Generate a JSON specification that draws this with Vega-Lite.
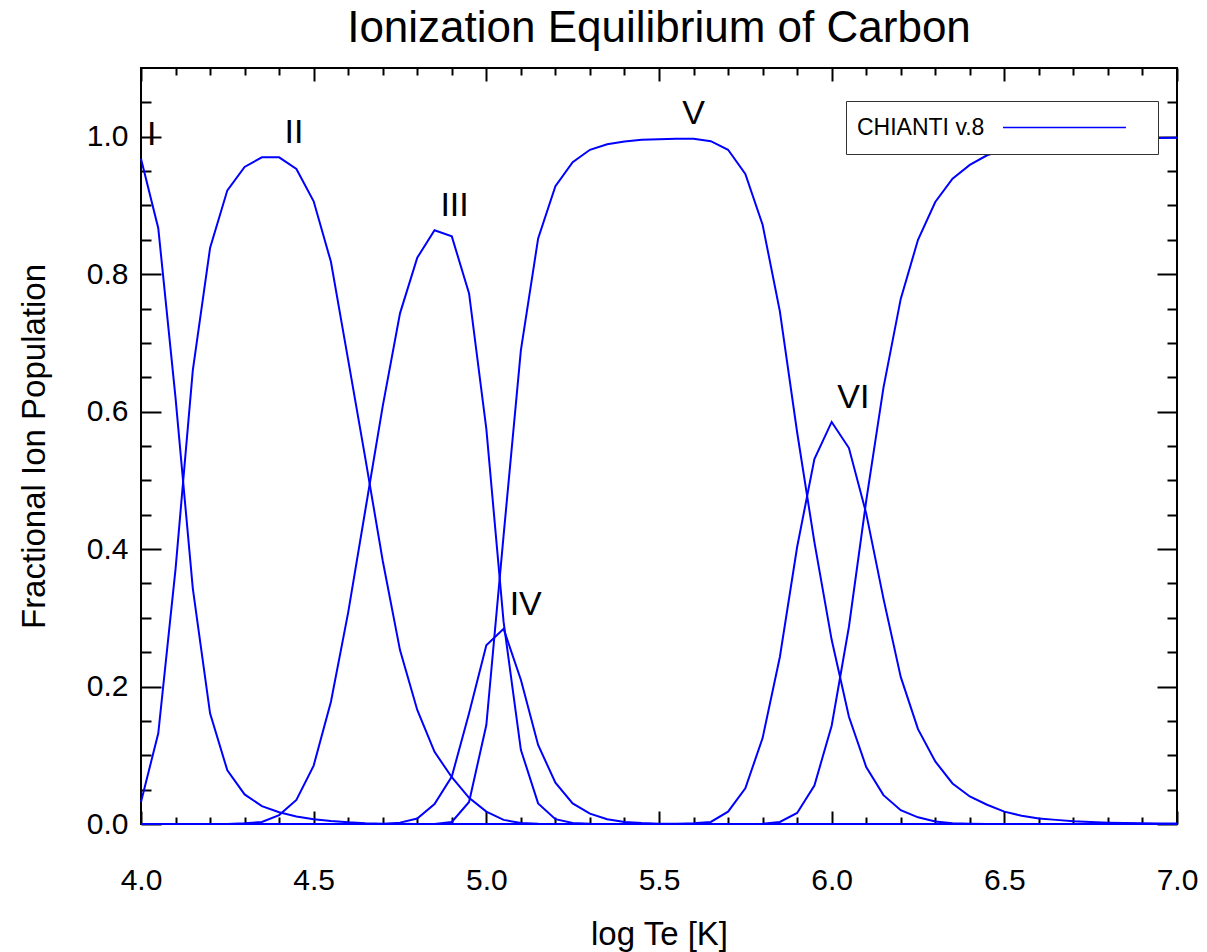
{
  "$schema": "https://vega.github.io/schema/vega-lite/v6.json",
  "autosize": {"type": "none"},
  "padding": {"left": 141, "top": 68, "right": 30, "bottom": 128},
  "width": 1036,
  "height": 756,
  "background": "white",
  "title": {"text": "Ionization Equilibrium of Carbon", "fontSize": 44, "font": "Liberation Sans", "fontWeight": "normal", "color": "black", "anchor": "middle", "baseline": "alphabetic", "offset": -19},
  "config": {
    "view": {"stroke": "black", "strokeWidth": 2},
    "axis": {"domain": false, "grid": false, "tickColor": "black", "tickWidth": 2, "labelColor": "black", "labelFont": "Liberation Sans", "labelFontSize": 30, "labelOverlap": false, "labelFlush": false, "titleFont": "Liberation Sans", "titleFontWeight": "normal", "titleColor": "black", "titleFontSize": 33}
  },
  "datasets": {
    "ioneq": [
      {"t": 4.00, "I": 0.968, "II": 0.032, "III": 0, "IV": 0, "V": 0, "VI": 0, "VII": 0},
      {"t": 4.05, "I": 0.867, "II": 0.132, "III": 0, "IV": 0, "V": 0, "VI": 0, "VII": 0},
      {"t": 4.10, "I": 0.62, "II": 0.371, "III": 0, "IV": 0, "V": 0, "VI": 0, "VII": 0},
      {"t": 4.15, "I": 0.343, "II": 0.66, "III": 0, "IV": 0, "V": 0, "VI": 0, "VII": 0},
      {"t": 4.20, "I": 0.161, "II": 0.838, "III": 0, "IV": 0, "V": 0, "VI": 0, "VII": 0},
      {"t": 4.25, "I": 0.078, "II": 0.922, "III": 0, "IV": 0, "V": 0, "VI": 0, "VII": 0},
      {"t": 4.30, "I": 0.043, "II": 0.956, "III": 0.001, "IV": 0, "V": 0, "VI": 0, "VII": 0},
      {"t": 4.35, "I": 0.026, "II": 0.970, "III": 0.003, "IV": 0, "V": 0, "VI": 0, "VII": 0},
      {"t": 4.40, "I": 0.017, "II": 0.970, "III": 0.013, "IV": 0, "V": 0, "VI": 0, "VII": 0},
      {"t": 4.45, "I": 0.011, "II": 0.953, "III": 0.035, "IV": 0, "V": 0, "VI": 0, "VII": 0},
      {"t": 4.50, "I": 0.007, "II": 0.906, "III": 0.085, "IV": 0, "V": 0, "VI": 0, "VII": 0},
      {"t": 4.55, "I": 0.0044, "II": 0.818, "III": 0.178, "IV": 0, "V": 0, "VI": 0, "VII": 0},
      {"t": 4.60, "I": 0.0025, "II": 0.675, "III": 0.308, "IV": 0, "V": 0, "VI": 0, "VII": 0},
      {"t": 4.65, "I": 0.0012, "II": 0.531, "III": 0.458, "IV": 0, "V": 0, "VI": 0, "VII": 0},
      {"t": 4.70, "I": 0.0005, "II": 0.383, "III": 0.608, "IV": 0, "V": 0, "VI": 0, "VII": 0},
      {"t": 4.75, "I": 0.0002, "II": 0.253, "III": 0.743, "IV": 0.002, "V": 0, "VI": 0, "VII": 0},
      {"t": 4.80, "I": 0.0001, "II": 0.166, "III": 0.824, "IV": 0.008, "V": 0, "VI": 0, "VII": 0},
      {"t": 4.85, "I": 0, "II": 0.105, "III": 0.864, "IV": 0.029, "V": 0, "VI": 0, "VII": 0},
      {"t": 4.90, "I": 0, "II": 0.068, "III": 0.855, "IV": 0.069, "V": 0.003, "VI": 0, "VII": 0},
      {"t": 4.95, "I": 0, "II": 0.038, "III": 0.772, "IV": 0.161, "V": 0.032, "VI": 0, "VII": 0},
      {"t": 5.00, "I": 0, "II": 0.018, "III": 0.575, "IV": 0.260, "V": 0.144, "VI": 0, "VII": 0},
      {"t": 5.05, "I": 0, "II": 0.006, "III": 0.294, "IV": 0.284, "V": 0.42, "VI": 0, "VII": 0},
      {"t": 5.10, "I": 0, "II": 0.0015, "III": 0.108, "IV": 0.21, "V": 0.689, "VI": 0, "VII": 0},
      {"t": 5.15, "I": 0, "II": 0.0003, "III": 0.03, "IV": 0.115, "V": 0.852, "VI": 0, "VII": 0},
      {"t": 5.20, "I": 0, "II": 0, "III": 0.007, "IV": 0.06, "V": 0.928, "VI": 0, "VII": 0},
      {"t": 5.25, "I": 0, "II": 0, "III": 0.0015, "IV": 0.03, "V": 0.963, "VI": 0, "VII": 0},
      {"t": 5.30, "I": 0, "II": 0, "III": 0.0003, "IV": 0.015, "V": 0.981, "VI": 0, "VII": 0},
      {"t": 5.35, "I": 0, "II": 0, "III": 0, "IV": 0.007, "V": 0.989, "VI": 0, "VII": 0},
      {"t": 5.40, "I": 0, "II": 0, "III": 0, "IV": 0.003, "V": 0.993, "VI": 0, "VII": 0},
      {"t": 5.45, "I": 0, "II": 0, "III": 0, "IV": 0.0013, "V": 0.9955, "VI": 0, "VII": 0},
      {"t": 5.50, "I": 0, "II": 0, "III": 0, "IV": 0.0005, "V": 0.9965, "VI": 0, "VII": 0},
      {"t": 5.55, "I": 0, "II": 0, "III": 0, "IV": 0.0002, "V": 0.997, "VI": 0, "VII": 0},
      {"t": 5.60, "I": 0, "II": 0, "III": 0, "IV": 0, "V": 0.997, "VI": 0.001, "VII": 0},
      {"t": 5.65, "I": 0, "II": 0, "III": 0, "IV": 0, "V": 0.9935, "VI": 0.003, "VII": 0},
      {"t": 5.70, "I": 0, "II": 0, "III": 0, "IV": 0, "V": 0.981, "VI": 0.018, "VII": 0},
      {"t": 5.75, "I": 0, "II": 0, "III": 0, "IV": 0, "V": 0.946, "VI": 0.052, "VII": 0},
      {"t": 5.80, "I": 0, "II": 0, "III": 0, "IV": 0, "V": 0.872, "VI": 0.125, "VII": 0.0005},
      {"t": 5.85, "I": 0, "II": 0, "III": 0, "IV": 0, "V": 0.746, "VI": 0.243, "VII": 0.003},
      {"t": 5.90, "I": 0, "II": 0, "III": 0, "IV": 0, "V": 0.570, "VI": 0.403, "VII": 0.016},
      {"t": 5.95, "I": 0, "II": 0, "III": 0, "IV": 0, "V": 0.41, "VI": 0.531, "VII": 0.056},
      {"t": 6.00, "I": 0, "II": 0, "III": 0, "IV": 0, "V": 0.268, "VI": 0.585, "VII": 0.143},
      {"t": 6.05, "I": 0, "II": 0, "III": 0, "IV": 0, "V": 0.156, "VI": 0.547, "VII": 0.287},
      {"t": 6.10, "I": 0, "II": 0, "III": 0, "IV": 0, "V": 0.083, "VI": 0.452, "VII": 0.47},
      {"t": 6.15, "I": 0, "II": 0, "III": 0, "IV": 0, "V": 0.042, "VI": 0.328, "VII": 0.635},
      {"t": 6.20, "I": 0, "II": 0, "III": 0, "IV": 0, "V": 0.020, "VI": 0.214, "VII": 0.764},
      {"t": 6.25, "I": 0, "II": 0, "III": 0, "IV": 0, "V": 0.0097, "VI": 0.138, "VII": 0.850},
      {"t": 6.30, "I": 0, "II": 0, "III": 0, "IV": 0, "V": 0.0035, "VI": 0.091, "VII": 0.905},
      {"t": 6.35, "I": 0, "II": 0, "III": 0, "IV": 0, "V": 0.0012, "VI": 0.059, "VII": 0.939},
      {"t": 6.40, "I": 0, "II": 0, "III": 0, "IV": 0, "V": 0.0004, "VI": 0.040, "VII": 0.959},
      {"t": 6.45, "I": 0, "II": 0, "III": 0, "IV": 0, "V": 0, "VI": 0.028, "VII": 0.973},
      {"t": 6.50, "I": 0, "II": 0, "III": 0, "IV": 0, "V": 0, "VI": 0.018, "VII": 0.9815},
      {"t": 6.55, "I": 0, "II": 0, "III": 0, "IV": 0, "V": 0, "VI": 0.012, "VII": 0.987},
      {"t": 6.60, "I": 0, "II": 0, "III": 0, "IV": 0, "V": 0, "VI": 0.008, "VII": 0.990},
      {"t": 6.65, "I": 0, "II": 0, "III": 0, "IV": 0, "V": 0, "VI": 0.006, "VII": 0.993},
      {"t": 6.70, "I": 0, "II": 0, "III": 0, "IV": 0, "V": 0, "VI": 0.004, "VII": 0.995},
      {"t": 6.75, "I": 0, "II": 0, "III": 0, "IV": 0, "V": 0, "VI": 0.003, "VII": 0.996},
      {"t": 6.80, "I": 0, "II": 0, "III": 0, "IV": 0, "V": 0, "VI": 0.002, "VII": 0.997},
      {"t": 6.85, "I": 0, "II": 0, "III": 0, "IV": 0, "V": 0, "VI": 0.0015, "VII": 0.9975},
      {"t": 6.90, "I": 0, "II": 0, "III": 0, "IV": 0, "V": 0, "VI": 0.001, "VII": 0.998},
      {"t": 6.95, "I": 0, "II": 0, "III": 0, "IV": 0, "V": 0, "VI": 0.0008, "VII": 0.998},
      {"t": 7.00, "I": 0, "II": 0, "III": 0, "IV": 0, "V": 0, "VI": 0.0006, "VII": 0.9985}
    ],
    "labels": [
      {"label": "I", "t": 4.031, "f": 1.003},
      {"label": "II", "t": 4.443, "f": 1.006},
      {"label": "III", "t": 4.908, "f": 0.899},
      {"label": "IV", "t": 5.114, "f": 0.319},
      {"label": "V", "t": 5.600, "f": 1.033},
      {"label": "VI", "t": 6.063, "f": 0.620}
    ]
  },
  "layer": [
    {
      "data": {"name": "ioneq"},
      "transform": [{"fold": ["I", "II", "III", "IV", "V", "VI", "VII"], "as": ["ion", "frac"]}],
      "mark": {"type": "line", "strokeWidth": 2, "clip": false},
      "encoding": {
        "x": {"field": "t", "type": "quantitative", "scale": {"domain": [4, 7], "nice": false, "zero": false},
          "axis": {"orient": "bottom", "values": [4.0, 4.5, 5.0, 5.5, 6.0, 6.5, 7.0], "tickSize": -13, "format": ".1f",
            "labelPadding": 54, "title": "log Te [K]", "titleX": 518, "titleY": 120, "titleBaseline": "alphabetic"}},
        "y": {"field": "frac", "type": "quantitative", "scale": {"domain": [0, 1.1], "nice": false, "zero": false},
          "axis": {"orient": "left", "values": [0, 0.2, 0.4, 0.6, 0.8, 1.0], "tickSize": -20, "format": ".1f",
            "labelPadding": 33, "title": "Fractional Ion Population", "titleX": -97, "titleY": 378, "titleBaseline": "alphabetic"}},
        "detail": {"field": "ion", "type": "nominal"},
        "color": {"datum": "CHIANTI v.8", "type": "nominal", "scale": {"range": ["#0000ff"]},
          "legend": {"orient": "none", "legendX": 705, "legendY": 33, "title": "CHIANTI v.8", "titleOrient": "left", "titleAngle": 0, "titleFontSize": 23, "titleFontWeight": "normal", "titleFont": "Liberation Sans", "titleColor": "black", "titleBaseline": "middle", "titlePadding": 17,
            "symbolType": "M-1,0H7.48", "symbolSize": 841, "symbolStrokeWidth": 1.5, "symbolStrokeColor": "#0000ff", "symbolFillColor": "transparent",
            "labelExpr": "' '", "labelFontSize": 29, "labelOffset": 114, "strokeColor": "#333333", "padding": 11, "fillColor": "white",
            "encode": {"title": {"update": {"dy": {"value": 1}}}}}}
      }
    },
    {
      "data": {"name": "labels"},
      "mark": {"type": "text", "font": "Liberation Sans", "fontSize": 34, "color": "black", "align": "center", "baseline": "middle"},
      "encoding": {
        "text": {"field": "label", "type": "nominal"},
        "x": {"field": "t", "type": "quantitative", "scale": {"domain": [4, 7], "nice": false, "zero": false},
          "axis": {"orient": "top", "values": [4.0, 4.5, 5.0, 5.5, 6.0, 6.5, 7.0], "tickSize": -13, "labels": false, "title": null}},
        "y": {"field": "f", "type": "quantitative", "scale": {"domain": [0, 1.1], "nice": false, "zero": false},
          "axis": {"orient": "right", "values": [0, 0.2, 0.4, 0.6, 0.8, 1.0], "tickSize": -20, "labels": false, "title": null}}
      }
    },
    {
      "data": {"name": "labels"},
      "mark": {"type": "point", "opacity": 0},
      "encoding": {
        "x": {"field": "t", "type": "quantitative", "scale": {"domain": [4, 7], "nice": false, "zero": false},
          "axis": {"orient": "bottom", "values": [4.1,4.2,4.3,4.4,4.6,4.7,4.8,4.9,5.1,5.2,5.3,5.4,5.6,5.7,5.8,5.9,6.1,6.2,6.3,6.4,6.6,6.7,6.8,6.9], "tickSize": -7, "labels": false, "title": null}},
        "y": {"field": "f", "type": "quantitative", "scale": {"domain": [0, 1.1], "nice": false, "zero": false},
          "axis": {"orient": "left", "values": [0.05,0.1,0.15,0.25,0.3,0.35,0.45,0.5,0.55,0.65,0.7,0.75,0.85,0.9,0.95,1.05], "tickSize": -10, "labels": false, "title": null}}
      }
    },
    {
      "data": {"name": "labels"},
      "mark": {"type": "point", "opacity": 0},
      "encoding": {
        "x": {"field": "t", "type": "quantitative", "scale": {"domain": [4, 7], "nice": false, "zero": false},
          "axis": {"orient": "top", "values": [4.1,4.2,4.3,4.4,4.6,4.7,4.8,4.9,5.1,5.2,5.3,5.4,5.6,5.7,5.8,5.9,6.1,6.2,6.3,6.4,6.6,6.7,6.8,6.9], "tickSize": -7, "labels": false, "title": null}},
        "y": {"field": "f", "type": "quantitative", "scale": {"domain": [0, 1.1], "nice": false, "zero": false},
          "axis": {"orient": "right", "values": [0.05,0.1,0.15,0.25,0.3,0.35,0.45,0.5,0.55,0.65,0.7,0.75,0.85,0.9,0.95,1.05], "tickSize": -10, "labels": false, "title": null}}
      }
    }
  ],
  "resolve": {"axis": {"x": "independent", "y": "independent"}}
}
